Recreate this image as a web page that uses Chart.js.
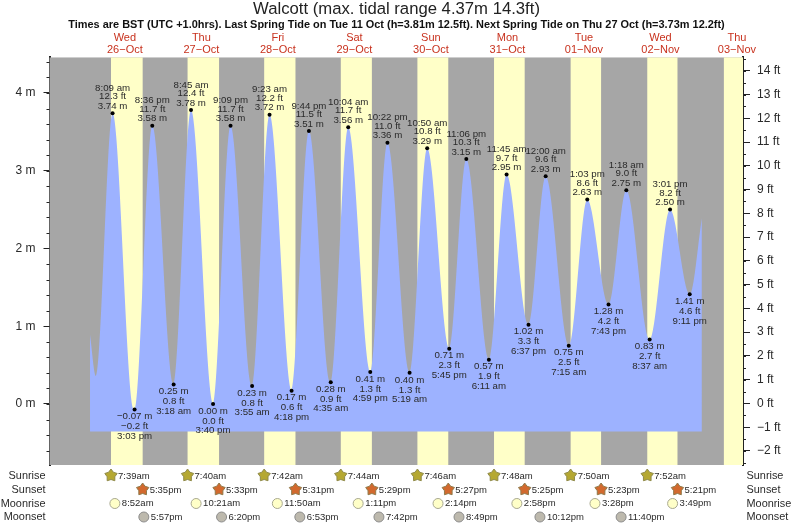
<!DOCTYPE html>
<html>
<head>
<meta charset="utf-8">
<title>Walcott tide</title>
<script src="https://cdn.jsdelivr.net/npm/chart.js@4"></script>
<style>
  html, body { margin: 0; padding: 0; background: #fff; }
  canvas { display: block; }
</style>
</head>
<body>
<canvas id="myChart" width="793" height="525"></canvas>
<script>
const titleText = 'Walcott (max. tidal range 4.37m 14.3ft)';
const subtitleText = 'Times are BST (UTC +1.0hrs). Last Spring Tide on Tue 11 Oct (h=3.81m 12.5ft). Next Spring Tide on Thu 27 Oct (h=3.73m 12.2ft)';

const weekdays = ['Wed', 'Thu', 'Fri', 'Sat', 'Sun', 'Mon', 'Tue', 'Wed', 'Thu'];
const dates = ['26−Oct', '27−Oct', '28−Oct', '29−Oct', '30−Oct', '31−Oct', '01−Nov', '02−Nov', '03−Nov'];

// tide turning points: day index from 26 Oct, clock time, height
const extremeDays = [0, 0, 0, 1, 1, 1, 1, 2, 2, 2, 2, 3, 3, 3, 3, 4, 4, 4, 4, 5, 5, 5, 6, 6, 6, 6, 7, 7, 7, 7];
const extremeTimes = ['8:09 am', '3:03 pm', '8:36 pm', '3:18 am', '8:45 am', '3:40 pm', '9:09 pm', '3:55 am', '9:23 am', '4:18 pm',
  '9:44 pm', '4:35 am', '10:04 am', '4:59 pm', '10:22 pm', '5:19 am', '10:50 am', '5:45 pm', '11:06 pm', '6:11 am',
  '11:45 am', '6:37 pm', '12:00 am', '7:15 am', '1:03 pm', '7:43 pm', '1:18 am', '8:37 am', '3:01 pm', '9:11 pm'];
const extremeMetres = [3.74, -0.07, 3.58, 0.25, 3.78, 0.00, 3.58, 0.23, 3.72, 0.17,
  3.51, 0.28, 3.56, 0.41, 3.36, 0.40, 3.29, 0.71, 3.15, 0.57,
  2.95, 1.02, 2.93, 0.75, 2.63, 1.28, 2.75, 0.83, 2.50, 1.41];
const extremeFeet = [12.3, -0.2, 11.7, 0.8, 12.4, 0.0, 11.7, 0.8, 12.2, 0.6,
  11.5, 0.9, 11.7, 1.3, 11.0, 1.3, 10.8, 2.3, 10.3, 1.9,
  9.7, 3.3, 9.6, 2.5, 8.6, 4.2, 9.0, 2.7, 8.2, 4.6];

// curve ends that have no label in the picture (hours from 26 Oct 00:00, metres)
const leadInHours = [1.07, 2.9];
const leadInMetres = [0.89, 0.36];
const leadOutHours = [193.0];
const leadOutMetres = [2.39];

const sunriseTimes = ['7:39am', '7:40am', '7:42am', '7:44am', '7:46am', '7:48am', '7:50am', '7:52am', '7:54am'];
const sunsetTimes = ['5:35pm', '5:33pm', '5:31pm', '5:29pm', '5:27pm', '5:25pm', '5:23pm', '5:21pm'];
const moonriseTimes = ['8:52am', '10:21am', '11:50am', '1:11pm', '2:14pm', '2:58pm', '3:28pm', '3:49pm'];
const moonsetTimes = ['5:57pm', '6:20pm', '6:53pm', '7:42pm', '8:49pm', '10:12pm', '11:40pm'];

const hourMin = -11.64, hourMax = 205.9;
const fillFloor = -0.355;

function hoursOf(day, time) {
  const m = time.match(/(\d+):(\d+)\s*(am|pm)/);
  let h = parseInt(m[1]) % 12;
  if (m[3] === 'pm') h += 12;
  return day * 24 + h + parseInt(m[2]) / 60;
}
function minus(s) {
  return String(s).replace('-', '−');
}

const extremeHours = extremeTimes.map((t, i) => hoursOf(extremeDays[i], t));
const curveHours = leadInHours.concat(extremeHours, leadOutHours);
const curveMetres = leadInMetres.concat(extremeMetres, leadOutMetres);

const darkText = '#2a2a2a';
const sans = '"Liberation Sans", Arial, sans-serif';

function starPath(c, x, y, r) {
  c.beginPath();
  for (let i = 0; i < 10; i++) {
    const rad = i % 2 ? r * 0.62 : r;
    const a = -Math.PI / 2 + i * Math.PI / 5;
    c.lineTo(x + rad * Math.cos(a), y + rad * Math.sin(a));
  }
  c.closePath();
}

const tidePlugin = {
  id: 'tideExtras',
  beforeDatasetsDraw(chart) {
    const c = chart.ctx, a = chart.chartArea, x = chart.scales.x;
    c.save();
    c.fillStyle = '#a6a6a6';
    c.fillRect(a.left, a.top, a.right - a.left, a.bottom - a.top);
    c.fillStyle = '#ffffc8';
    sunriseTimes.forEach((t, i) => {
      const x0 = x.getPixelForValue(hoursOf(i, t));
      const x1 = sunsetTimes[i] ? x.getPixelForValue(hoursOf(i, sunsetTimes[i])) : a.right;
      c.fillRect(x0, a.top, x1 - x0, a.bottom - a.top);
    });
    c.restore();
  },
  afterDatasetsDraw(chart) {
    const c = chart.ctx, a = chart.chartArea, x = chart.scales.x, y = chart.scales.y, yFt = chart.scales.yFt;
    c.save();

    // minor ticks
    c.strokeStyle = '#222';
    c.lineWidth = 1;
    c.beginPath();
    for (let v = -6; v <= 44; v += 2) {
      const p = Math.round(y.getPixelForValue(v / 10)) + 0.5;
      c.moveTo(a.left - 3, p); c.lineTo(a.left, p);
    }
    for (let v = -5; v <= 29; v++) {
      const p = Math.round(yFt.getPixelForValue(v / 2)) + 0.5;
      c.moveTo(a.right, p); c.lineTo(a.right + 3, p);
    }
    c.stroke();

    // labels at high and low water
    c.font = '9.7px ' + sans;
    c.fillStyle = darkText;
    c.textAlign = 'center';
    c.textBaseline = 'middle';
    extremeHours.forEach((h, i) => {
      const px = x.getPixelForValue(h), py = y.getPixelForValue(extremeMetres[i]);
      const m = minus(extremeMetres[i].toFixed(2)) + ' m';
      const ft = minus(extremeFeet[i].toFixed(1)) + ' ft';
      if (i % 2 === 0) {
        c.fillText(m, px, py - 7);
        c.fillText(ft, px, py - 16.5);
        c.fillText(extremeTimes[i], px, py - 25);
      } else {
        c.fillText(m, px, py + 7);
        c.fillText(ft, px, py + 17);
        c.fillText(extremeTimes[i], px, py + 26.5);
      }
    });

    // sun and moon rows under the plot
    const rows = [
      { name: 'Sunrise', y: 476, times: sunriseTimes.slice(0, 8), star: true, fill: '#b5a832', line: '#8f8a4a', gap: 7 },
      { name: 'Sunset', y: 490, times: sunsetTimes, star: true, fill: '#d2692e', line: '#8f7a4a', gap: 7 },
      { name: 'Moonrise', y: 503.5, times: moonriseTimes, star: false, fill: '#ffffc8', line: '#a8a890', gap: 7 },
      { name: 'Moonset', y: 517, times: moonsetTimes, star: false, fill: '#bdb9ad', line: '#8c8c8c', gap: 7 }
    ];
    rows.forEach(row => {
      c.font = '10.9px ' + sans;
      c.fillStyle = darkText;
      c.textAlign = 'right';
      c.fillText(row.name, 45.5, row.y);
      c.textAlign = 'left';
      c.fillText(row.name, 746.5, row.y);
      c.font = '9.5px ' + sans;
      row.times.forEach((t, i) => {
        const px = x.getPixelForValue(hoursOf(i, t));
        if (row.star) starPath(c, px, row.y - 0.5, 6.5);
        else { c.beginPath(); c.arc(px, row.y, 5, 0, Math.PI * 2); }
        c.fillStyle = row.fill;
        c.fill();
        c.strokeStyle = row.line;
        c.lineWidth = 1;
        c.stroke();
        c.fillStyle = darkText;
        c.fillText(t, px + row.gap, row.y);
      });
    });
    c.restore();
  }
};

const ctx = document.getElementById('myChart').getContext('2d');

const chart = new Chart(ctx, {
  type: 'line',
  plugins: [tidePlugin],
  data: {
    datasets: [{
      label: 'High and low water',
      data: extremeHours.map((h, i) => ({ x: h, y: extremeMetres[i] })),
      showLine: false,
      pointRadius: 2,
      pointBackgroundColor: '#000',
      pointBorderWidth: 0
    }, {
      label: 'Tide',
      data: curveHours.map((h, i) => ({ x: h, y: curveMetres[i] })),
      cubicInterpolationMode: 'monotone',
      pointRadius: 0,
      borderWidth: 0,
      backgroundColor: '#9db2ff',
      fill: { value: fillFloor }
    }]
  },
  options: {
    responsive: false,
    animation: false,
    layout: { padding: { top: 0, bottom: 60, left: 0, right: 0 } },
    plugins: {
      legend: { display: false },
      title: {
        display: true,
        text: titleText,
        color: '#222',
        font: { family: sans, size: 16.7, weight: 'normal', lineHeight: 1 },
        padding: { top: 1, bottom: 2 }
      },
      subtitle: {
        display: true,
        text: subtitleText,
        color: '#111',
        font: { family: sans, size: 10.95, weight: 'bold', lineHeight: 1 },
        padding: { top: 0, bottom: 0 }
      }
    },
    scales: {
      x: {
        type: 'linear',
        min: hourMin,
        max: hourMax,
        grid: { display: false },
        border: { display: false },
        ticks: { display: false },
        afterFit: s => { s.height = 0; }
      },
      xDays: {
        type: 'linear',
        position: 'top',
        min: hourMin,
        max: hourMax,
        grid: { display: false, drawTicks: false, tickLength: 0 },
        border: { display: false },
        afterBuildTicks: s => { s.ticks = weekdays.map((d, i) => ({ value: i * 24 + 12 })); },
        ticks: {
          autoSkip: false,
          maxRotation: 0,
          padding: 1,
          color: '#c8321e',
          font: { family: sans, size: 11, lineHeight: 1.09 },
          callback: v => {
            const i = (v - 12) / 24;
            return [weekdays[i], dates[i]];
          }
        },
        afterFit: s => { s.height = 26.8; }
      },
      y: {
        position: 'left',
        min: -0.785,
        max: 4.457,
        grid: { drawOnChartArea: false, tickLength: 6, tickColor: '#222' },
        border: { color: '#222', width: 2 },
        ticks: {
          stepSize: 1,
          includeBounds: false,
          padding: 8,
          color: darkText,
          font: { family: sans, size: 12 },
          callback: v => minus(v) + ' m'
        },
        afterFit: s => { s.width = 49.5; }
      },
      yFt: {
        position: 'right',
        min: -2.59,
        max: 14.56,
        grid: { drawOnChartArea: false, tickLength: 7, tickColor: '#222' },
        border: { color: '#222', width: 2 },
        ticks: {
          stepSize: 1,
          includeBounds: false,
          padding: 7,
          color: darkText,
          font: { family: sans, size: 12 },
          callback: v => minus(v) + ' ft'
        },
        afterFit: s => { s.width = 50; }
      }
    }
  }
});
</script>
</body>
</html>
